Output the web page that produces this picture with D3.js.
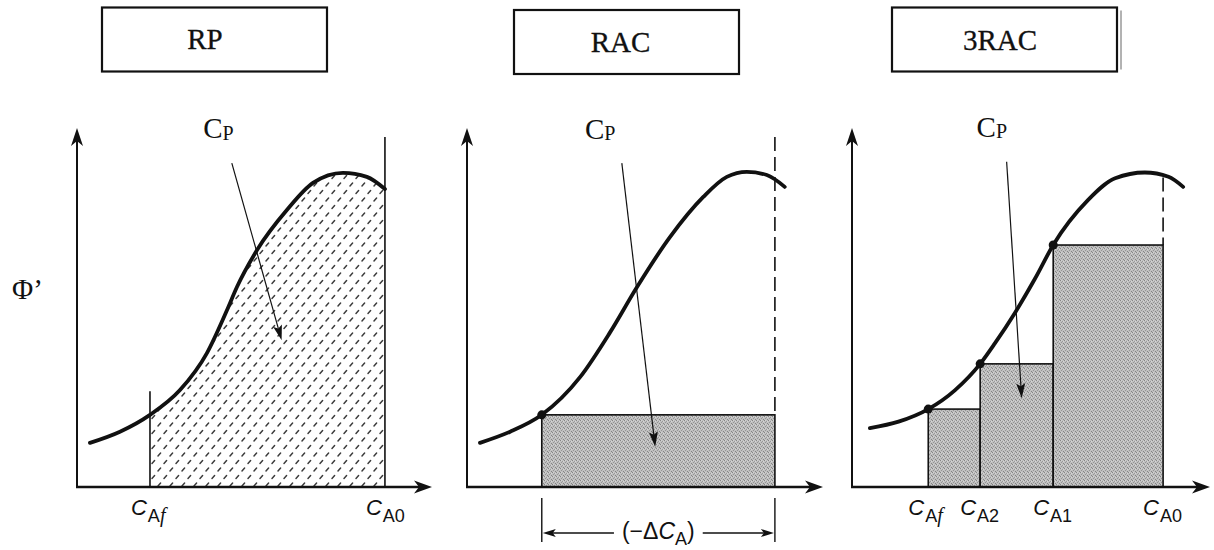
<!DOCTYPE html>
<html>
<head>
<meta charset="utf-8">
<script src="https://cdn.jsdelivr.net/npm/d3@7"></script>
<style>
  body { margin: 0; background: #fff; }
  svg { display: block; }
</style>
</head>
<body>
<svg id="chart" width="1214" height="550"></svg>
<script>
// values; x = concentration, y = Φ' (both drawn on 0..10 axes)
const titles = ["RP", "RAC", "3RAC"];
const yLabel = "Φ’";

const curveRP = [[0.38, 1.23], [1.26, 1.54], [2.14, 2.01], [3.02, 2.70], [3.81, 3.73], [4.40, 4.93],
  [4.69, 5.57], [5.28, 6.60], [6.16, 7.72], [6.92, 8.47], [7.80, 8.75], [8.50, 8.64], [9.03, 8.30]];
const curveRAC = [[0.37, 1.23], [1.23, 1.54], [2.13, 2.01], [3.22, 3.06], [4.07, 4.30], [4.83, 5.55],
  [5.78, 6.96], [6.73, 8.08], [7.40, 8.64], [7.97, 8.78], [8.54, 8.69], [9.05, 8.36]];
const curve3RAC = [[0.50, 1.64], [1.30, 1.82], [2.13, 2.17], [2.88, 2.70], [3.58, 3.43], [3.99, 4.00],
  [4.55, 4.85], [5.11, 5.80], [5.62, 6.74], [6.59, 7.99], [7.35, 8.60], [8.18, 8.76], [8.84, 8.64], [9.25, 8.36]];
const curves = [curveRP, curveRAC, curve3RAC];

// RP: limits of the integral (x, top of the drawn line)
const limitsRP = [{ name: "Af", x: 2.14, top: 2.67 }, { name: "A0", x: 9.03, top: 9.75 }];

// RAC: single rectangle
const stepRAC = { from: 2.13, to: 8.77, phi: 2.01 };
const dashTopRAC = 9.75;
const deltaLabel = "(−Δ";

// 3RAC: three rectangles
const steps3RAC = [
  { from: 2.13, to: 3.58, phi: 2.17 },
  { from: 3.58, to: 5.62, phi: 3.43 },
  { from: 5.62, to: 8.69, phi: 6.74 }
];
const ticks3RAC = [{ name: "Af", x: 2.13 }, { name: "A2", x: 3.58 }, { name: "A1", x: 5.62 }, { name: "A0", x: 8.69 }];
const dashTop3RAC = 8.62;

// "Cp" pointer arrows: label spot, line start, arrow tip
const pointers = [
  { label: [3.70, 9.72], from: [4.54, 9.02], to: [6.00, 4.09] },
  { label: [3.36, 9.70], from: [4.41, 9.02], to: [5.36, 1.12] },
  { label: [3.48, 9.75], from: [4.32, 9.06], to: [4.74, 2.47] }
];

// layout of the three panels
const panels = [
  { x0: 77, xEnd: 432, xMax: 10.41, box: [102, 7.5, 225, 64], titleX: 205, titleY: 49 },
  { x0: 467, xEnd: 823, xMax: 10.14, box: [514, 10, 225, 64], titleX: 620.5, titleY: 51.5 },
  { x0: 852, xEnd: 1210, xMax: 10.0, box: [892, 7.5, 225, 64], titleX: 1000, titleY: 50 }
];

const ink = "#111";
const serif = "'Liberation Serif', 'Times New Roman', serif";
const sans = "'Liberation Sans', Arial, sans-serif";

const svg = d3.select("#chart");
const defs = svg.append("defs");

// short dashes used for the RP integral
const hatch = defs.append("pattern")
    .attr("id", "hatch")
    .attr("patternUnits", "userSpaceOnUse")
    .attr("width", 12)
    .attr("height", 15);
hatch.append("path")
    .attr("d", "M2,6L4.6,3M8,13.5L10.6,10.5")
    .attr("stroke", "#3c3c3c")
    .attr("stroke-width", 1.5)
    .attr("stroke-linecap", "round");

// grainy grey for the reactor rectangles
const grain = defs.append("pattern")
    .attr("id", "grain")
    .attr("patternUnits", "userSpaceOnUse")
    .attr("width", 4)
    .attr("height", 4);
grain.append("rect").attr("width", 4).attr("height", 4).attr("fill", "#c0c0c0");
[[0, 0, "#858585"], [2, 1, "#999"], [1, 2, "#949494"], [3, 3, "#858585"], [3, 1, "#d6d6d6"], [1, 0, "#d2d2d2"]]
  .forEach(p => grain.append("rect").attr("x", p[0]).attr("y", p[1]).attr("width", 1).attr("height", 1).attr("fill", p[2]));

const y = d3.scaleLinear().domain([0, 10]).range([487, 128]);

function arrowHead(g, x1, y1, x2, y2, len, hw, notch) {
  const a = Math.atan2(y2 - y1, x2 - x1), c = Math.cos(a), s = Math.sin(a);
  const bx = x2 - len * c, by = y2 - len * s;
  const nx = x2 - (len - notch) * c, ny = y2 - (len - notch) * s;
  g.append("path")
      .attr("d", `M${x2},${y2}L${bx - hw * s},${by + hw * c}L${nx},${ny}L${bx + hw * s},${by - hw * c}Z`)
      .attr("fill", ink);
  return [nx, ny];
}

function arrowLine(g, x1, y1, x2, y2, width, len, hw, notch) {
  const end = arrowHead(g, x1, y1, x2, y2, len, hw, notch);
  g.append("line")
      .attr("x1", x1).attr("y1", y1)
      .attr("x2", end[0]).attr("y2", end[1])
      .attr("stroke", ink)
      .attr("stroke-width", width);
}

// C with a subscript such as "Af", "A0"
function cLabel(g, xp, yp, sub) {
  const t = g.append("text")
      .attr("x", xp)
      .attr("y", yp)
      .attr("font-family", sans)
      .attr("fill", ink);
  t.append("tspan").attr("font-style", "italic").attr("font-size", 22).text("C");
  sub.split("").forEach((ch, i) => {
    const s = t.append("tspan").attr("font-size", 18).text(ch);
    if (i === 0) s.attr("dy", 7).attr("dx", 1);
    if (ch === "f") s.attr("font-style", "italic").attr("font-family", serif).attr("font-size", 20);
  });
  return t;
}

panels.forEach((p, i) => {
  const x = d3.scaleLinear().domain([0, p.xMax]).range([p.x0, p.xEnd]);
  const g = svg.append("g");
  const data = curves[i];

  // title box
  g.append("rect")
      .attr("x", p.box[0]).attr("y", p.box[1])
      .attr("width", p.box[2]).attr("height", p.box[3])
      .attr("fill", "none")
      .attr("stroke", ink)
      .attr("stroke-width", 2.2);
  g.append("text")
      .attr("x", p.titleX)
      .attr("y", p.titleY)
      .attr("text-anchor", "middle")
      .attr("font-family", serif)
      .attr("font-size", 29)
      .attr("fill", ink)
      .attr("stroke", ink)
      .attr("stroke-width", 0.3)
      .text(titles[i]);

  const line = d3.line()
      .x(d => x(d[0]))
      .y(d => y(d[1]))
      .curve(d3.curveMonotoneX);

  if (i === 0) {
    const clip = defs.append("clipPath").attr("id", "clipRP");
    clip.append("rect")
        .attr("x", x(limitsRP[0].x))
        .attr("y", 0)
        .attr("width", x(limitsRP[1].x) - x(limitsRP[0].x))
        .attr("height", y(0));
    const area = d3.area()
        .x(d => x(d[0]))
        .y0(y(0))
        .y1(d => y(d[1]))
        .curve(d3.curveMonotoneX);
    g.append("path")
        .attr("d", area(data))
        .attr("fill", "url(#hatch)")
        .attr("clip-path", "url(#clipRP)");
    limitsRP.forEach(d => {
      g.append("line")
          .attr("x1", x(d.x)).attr("x2", x(d.x))
          .attr("y1", y(d.top)).attr("y2", y(0))
          .attr("stroke", ink)
          .attr("stroke-width", 1.6);
      cLabel(g, x(d.x) - 19, 515, d.name);
    });
  }

  if (i === 1) {
    g.append("rect")
        .attr("x", x(stepRAC.from))
        .attr("y", y(stepRAC.phi))
        .attr("width", x(stepRAC.to) - x(stepRAC.from))
        .attr("height", y(0) - y(stepRAC.phi))
        .attr("fill", "url(#grain)")
        .attr("stroke", ink)
        .attr("stroke-width", 1.6);
    g.append("line")
        .attr("x1", x(stepRAC.to)).attr("x2", x(stepRAC.to))
        .attr("y1", y(dashTopRAC)).attr("y2", y(stepRAC.phi))
        .attr("stroke", ink)
        .attr("stroke-width", 1.6)
        .attr("stroke-dasharray", "14,6");

    // (−ΔC_A) dimension
    [stepRAC.from, stepRAC.to].forEach(v => {
      g.append("line")
          .attr("x1", x(v)).attr("x2", x(v))
          .attr("y1", 498).attr("y2", 542)
          .attr("stroke", ink)
          .attr("stroke-width", 1.4);
    });
    const mid = (x(stepRAC.from) + x(stepRAC.to)) / 2;
    const t = g.append("text")
        .attr("x", mid)
        .attr("y", 539)
        .attr("text-anchor", "middle")
        .attr("font-family", sans)
        .attr("font-size", 23)
        .attr("fill", ink);
    t.append("tspan").text(deltaLabel);
    t.append("tspan").attr("font-style", "italic").text("C");
    t.append("tspan").attr("font-size", 18).attr("dy", 6).text("A");
    t.append("tspan").attr("dy", -6).text(")");
    const bb = t.node().getBBox();
    arrowLine(g, bb.x - 8, 533, x(stepRAC.from) + 1, 533, 1.4, 13, 4, 3);
    arrowLine(g, bb.x + bb.width + 8, 533, x(stepRAC.to) - 1, 533, 1.4, 13, 4, 3);
  }

  if (i === 2) {
    g.selectAll("rect.step")
      .data(steps3RAC)
      .join("rect")
        .attr("class", "step")
        .attr("x", d => x(d.from))
        .attr("y", d => y(d.phi))
        .attr("width", d => x(d.to) - x(d.from))
        .attr("height", d => y(0) - y(d.phi))
        .attr("fill", "url(#grain)")
        .attr("stroke", ink)
        .attr("stroke-width", 1.6);
    const last = steps3RAC[steps3RAC.length - 1];
    g.append("line")
        .attr("x1", x(last.to)).attr("x2", x(last.to))
        .attr("y1", y(dashTop3RAC)).attr("y2", y(last.phi))
        .attr("stroke", ink)
        .attr("stroke-width", 1.6)
        .attr("stroke-dasharray", "14,6");
    ticks3RAC.forEach(d => cLabel(g, x(d.x) - 20, 515, d.name));
    // second edge on the title box
    g.append("line")
        .attr("x1", p.box[0] + p.box[2] + 4).attr("x2", p.box[0] + p.box[2] + 4)
        .attr("y1", p.box[1] + 3).attr("y2", p.box[1] + p.box[3] - 2)
        .attr("stroke", "#666")
        .attr("stroke-width", 1);
  }

  // axes
  arrowLine(g, p.x0, y(0) + 1, p.x0, 128, 2, 18, 6, 5);
  arrowLine(g, p.x0 - 1, y(0), p.xEnd, y(0), 2.6, 18, 6.5, 5);

  // curve
  g.append("path")
      .attr("d", line(data))
      .attr("fill", "none")
      .attr("stroke", ink)
      .attr("stroke-width", 3.8)
      .attr("stroke-linecap", "round");

  // operating points on the curve
  const pts = i === 1 ? [[stepRAC.from, stepRAC.phi]]
            : i === 2 ? steps3RAC.map(d => [d.from, d.phi]) : [];
  g.selectAll("circle.pt")
    .data(pts)
    .join("circle")
      .attr("class", "pt")
      .attr("cx", d => x(d[0]))
      .attr("cy", d => y(d[1]))
      .attr("r", 4.5)
      .attr("fill", ink);

  // Cp pointer
  const pt = pointers[i];
  const lab = g.append("text")
      .attr("x", x(pt.label[0]))
      .attr("y", y(pt.label[1]))
      .attr("font-family", serif)
      .attr("font-size", 29)
      .attr("fill", ink);
  lab.append("tspan").text("C");
  lab.append("tspan").attr("font-size", 20).attr("dy", 1.5).text("P");
  arrowLine(g, x(pt.from[0]), y(pt.from[1]), x(pt.to[0]), y(pt.to[1]), 1.2, 15, 4.5, 3);
});

svg.append("text")
    .attr("x", 12)
    .attr("y", 299)
    .attr("font-family", serif)
    .attr("font-size", 29)
    .attr("fill", ink)
    .text(yLabel);
</script>
</body>
</html>
